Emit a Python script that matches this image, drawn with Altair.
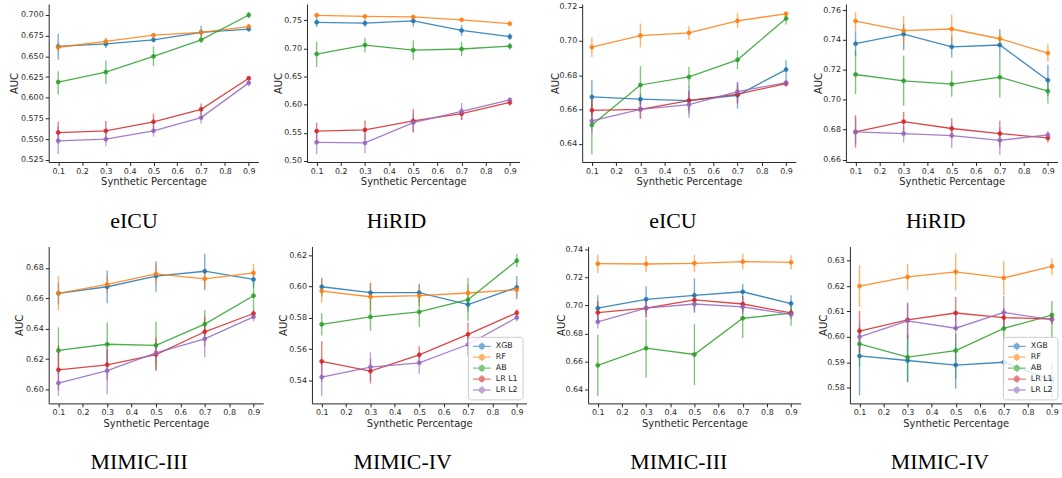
import altair as alt
import pandas as pd

# ---------------------------------------------------------------- data
PCT = [0.1, 0.3, 0.5, 0.7, 0.9]
MODELS = ["XGB", "RF", "AB", "LR L1", "LR L2"]
COLORS = ["#1f77b4", "#ff7f0e", "#2ca02c", "#d62728", "#9467bd"]
X_TICKS = [0.1, 0.2, 0.3, 0.4, 0.5, 0.6, 0.7, 0.8, 0.9]

# eICU (first block)
eicu_a_mean = {"XGB": [0.662, 0.665, 0.670, 0.679, 0.683], "RF": [0.661, 0.668, 0.6756, 0.679, 0.686],
               "AB": [0.619, 0.631, 0.650, 0.670, 0.700], "LR L1": [0.558, 0.560, 0.571, 0.586, 0.6236],
               "LR L2": [0.548, 0.550, 0.560, 0.576, 0.618]}
eicu_a_lo = {"XGB": [0.646, 0.660, 0.667, 0.674, 0.680], "RF": [0.656, 0.664, 0.673, 0.675, 0.683],
             "AB": [0.604, 0.617, 0.638, 0.666, 0.696], "LR L1": [0.545, 0.547, 0.559, 0.579, 0.621],
             "LR L2": [0.532, 0.541, 0.553, 0.569, 0.614]}
eicu_a_hi = {"XGB": [0.677, 0.670, 0.673, 0.687, 0.686], "RF": [0.666, 0.673, 0.678, 0.683, 0.689],
             "AB": [0.632, 0.645, 0.662, 0.675, 0.704], "LR L1": [0.571, 0.572, 0.581, 0.593, 0.626],
             "LR L2": [0.565, 0.557, 0.567, 0.583, 0.622]}

# HiRID (first block)
hirid_a_mean = {"XGB": [0.7465, 0.745, 0.749, 0.732, 0.721], "RF": [0.759, 0.757, 0.756, 0.751, 0.744],
                "AB": [0.690, 0.706, 0.697, 0.699, 0.704], "LR L1": [0.553, 0.555, 0.571, 0.584, 0.604],
                "LR L2": [0.533, 0.532, 0.568, 0.588, 0.6085]}
hirid_a_lo = {"XGB": [0.738, 0.738, 0.739, 0.722, 0.715], "RF": [0.755, 0.754, 0.752, 0.748, 0.742],
              "AB": [0.667, 0.693, 0.680, 0.686, 0.6975], "LR L1": [0.537, 0.537, 0.552, 0.5725, 0.598],
              "LR L2": [0.512, 0.5136, 0.550, 0.5725, 0.604]}
hirid_a_hi = {"XGB": [0.755, 0.752, 0.758, 0.742, 0.727], "RF": [0.763, 0.760, 0.760, 0.754, 0.746],
              "AB": [0.712, 0.719, 0.714, 0.712, 0.710], "LR L1": [0.568, 0.572, 0.592, 0.594, 0.609],
              "LR L2": [0.552, 0.549, 0.584, 0.603, 0.6126]}

# eICU (second block)
eicu_b_mean = {"XGB": [0.6673, 0.666, 0.6652, 0.6683, 0.6833], "RF": [0.6964, 0.7032, 0.7048, 0.7118, 0.7159],
               "AB": [0.6509, 0.6743, 0.679, 0.689, 0.7132], "LR L1": [0.6595, 0.6601, 0.6652, 0.6689, 0.6751],
               "LR L2": [0.6533, 0.6601, 0.6628, 0.6704, 0.6757]}
eicu_b_lo = {"XGB": [0.6566, 0.663, 0.6576, 0.6605, 0.6771], "RF": [0.6907, 0.6962, 0.7005, 0.7073, 0.7145],
             "AB": [0.6338, 0.663, 0.6728, 0.6835, 0.7097], "LR L1": [0.6517, 0.6546, 0.6595, 0.6634, 0.6732],
             "LR L2": [0.6462, 0.6546, 0.6552, 0.6644, 0.6741]}
eicu_b_hi = {"XGB": [0.6771, 0.669, 0.6732, 0.676, 0.6888], "RF": [0.702, 0.7102, 0.7087, 0.7165, 0.7171],
             "AB": [0.6654, 0.6853, 0.6849, 0.6946, 0.7161], "LR L1": [0.6667, 0.6654, 0.6708, 0.6741, 0.6767],
             "LR L2": [0.6595, 0.6654, 0.6712, 0.6761, 0.6771]}

# HiRID (second block)
hirid_b_mean = {"XGB": [0.7375, 0.7439, 0.7354, 0.7366, 0.7131], "RF": [0.7526, 0.7462, 0.7473, 0.7408, 0.7312],
                "AB": [0.7169, 0.7127, 0.7104, 0.7151, 0.7058], "LR L1": [0.6785, 0.6854, 0.6808, 0.6774, 0.6745],
                "LR L2": [0.6785, 0.6774, 0.6761, 0.6729, 0.6765]}
hirid_b_lo = {"XGB": [0.7294, 0.7332, 0.7283, 0.7283, 0.7026], "RF": [0.7462, 0.7361, 0.7377, 0.7377, 0.7254],
              "AB": [0.7038, 0.696, 0.702, 0.7015, 0.6975], "LR L1": [0.668, 0.6788, 0.6743, 0.6685, 0.6714],
              "LR L2": [0.6703, 0.6714, 0.668, 0.6631, 0.6736]}
hirid_b_hi = {"XGB": [0.7462, 0.7506, 0.7421, 0.7473, 0.7234], "RF": [0.7584, 0.7562, 0.7569, 0.7439, 0.7372],
              "AB": [0.7328, 0.7294, 0.7194, 0.7283, 0.7127], "LR L1": [0.6897, 0.6919, 0.6877, 0.6859, 0.677],
              "LR L2": [0.6881, 0.6825, 0.6841, 0.6814, 0.6792]}

# MIMIC-III (first block)
m3_a_mean = {"XGB": [0.6633, 0.6676, 0.6746, 0.6778, 0.6724], "RF": [0.6633, 0.6691, 0.6761, 0.6728, 0.6767],
             "AB": [0.6257, 0.6298, 0.6291, 0.643, 0.6617], "LR L1": [0.613, 0.6163, 0.623, 0.638, 0.65],
             "LR L2": [0.6043, 0.6124, 0.6241, 0.6333, 0.6478]}
m3_a_lo = {"XGB": [0.6561, 0.6567, 0.6643, 0.6659, 0.667], "RF": [0.6522, 0.6637, 0.6691, 0.6652, 0.6713],
           "AB": [0.6104, 0.6154, 0.6133, 0.6333, 0.6517], "LR L1": [0.5996, 0.6061, 0.6122, 0.6283, 0.6474],
           "LR L2": [0.5959, 0.597, 0.618, 0.6213, 0.6448]}
m3_a_hi = {"XGB": [0.6702, 0.6783, 0.6843, 0.6893, 0.6778], "RF": [0.6746, 0.6746, 0.6826, 0.68, 0.6826],
           "AB": [0.6409, 0.6441, 0.6448, 0.6522, 0.6713], "LR L1": [0.6289, 0.6263, 0.6343, 0.6478, 0.6522],
           "LR L2": [0.6137, 0.6278, 0.63, 0.6441, 0.6507]}

# MIMIC-IV (first block)
m4_a_mean = {"XGB": [0.5999, 0.5961, 0.5961, 0.5885, 0.5995], "RF": [0.5971, 0.5935, 0.5942, 0.5959, 0.598],
             "AB": [0.5758, 0.5806, 0.5838, 0.5916, 0.6166], "LR L1": [0.5521, 0.5459, 0.5563, 0.5694, 0.5832],
             "LR L2": [0.5421, 0.5485, 0.5512, 0.5629, 0.5802]}
m4_a_lo = {"XGB": [0.594, 0.5897, 0.5904, 0.584, 0.5919], "RF": [0.5897, 0.5844, 0.5876, 0.5908, 0.594],
           "AB": [0.5686, 0.5717, 0.5739, 0.5781, 0.6124], "LR L1": [0.5389, 0.5379, 0.5506, 0.5616, 0.5806],
           "LR L2": [0.5298, 0.54, 0.5442, 0.5559, 0.5777]}
m4_a_hi = {"XGB": [0.6056, 0.6024, 0.6018, 0.5929, 0.6067], "RF": [0.6046, 0.6024, 0.601, 0.6014, 0.6024],
           "AB": [0.583, 0.5908, 0.5929, 0.6056, 0.6208], "LR L1": [0.565, 0.5538, 0.5618, 0.577, 0.5855],
           "LR L2": [0.5538, 0.558, 0.558, 0.5696, 0.5828]}

# MIMIC-III (second block)
m3_b_mean = {"XGB": [0.6981, 0.7045, 0.7073, 0.7099, 0.7014], "RF": [0.73, 0.7298, 0.7303, 0.7315, 0.731],
             "AB": [0.6571, 0.6694, 0.6649, 0.6909, 0.6945], "LR L1": [0.695, 0.6981, 0.704, 0.7011, 0.6947],
             "LR L2": [0.6883, 0.6981, 0.7011, 0.699, 0.6936]}
m3_b_lo = {"XGB": [0.6886, 0.6945, 0.695, 0.704, 0.695], "RF": [0.7234, 0.7241, 0.7241, 0.7258, 0.7258],
           "AB": [0.635, 0.6483, 0.6428, 0.6767, 0.6855], "LR L1": [0.6867, 0.6914, 0.6985, 0.6957, 0.6919],
           "LR L2": [0.6836, 0.6914, 0.695, 0.6938, 0.6902]}
m3_b_hi = {"XGB": [0.7073, 0.7139, 0.7194, 0.7156, 0.7073], "RF": [0.7364, 0.7357, 0.7364, 0.7372, 0.736],
           "AB": [0.6791, 0.6902, 0.6867, 0.6997, 0.7021], "LR L1": [0.7033, 0.7045, 0.7092, 0.7068, 0.6974],
           "LR L2": [0.6926, 0.7045, 0.7068, 0.7045, 0.6966]}

# MIMIC-IV (second block)
m4_b_mean = {"XGB": [0.5925, 0.5907, 0.5889, 0.59, 0.583], "RF": [0.62, 0.6236, 0.6256, 0.6232, 0.6278],
             "AB": [0.5972, 0.592, 0.5946, 0.6033, 0.6086], "LR L1": [0.6023, 0.6067, 0.6094, 0.6076, 0.607],
             "LR L2": [0.6, 0.6063, 0.6034, 0.6096, 0.6068]}
m4_b_lo = {"XGB": [0.577, 0.5822, 0.5796, 0.5809, 0.576], "RF": [0.6118, 0.6184, 0.6184, 0.6165, 0.6243],
           "AB": [0.5881, 0.5822, 0.5835, 0.5972, 0.5995], "LR L1": [0.5939, 0.5994, 0.603, 0.6034, 0.605],
           "LR L2": [0.5946, 0.5998, 0.5972, 0.603, 0.6053]}
m4_b_hi = {"XGB": [0.6024, 0.6011, 0.5972, 0.5991, 0.590], "RF": [0.6282, 0.6288, 0.6327, 0.63, 0.631],
           "AB": [0.6037, 0.6004, 0.6011, 0.6096, 0.6141], "LR L1": [0.6102, 0.6135, 0.6157, 0.6115, 0.6089],
           "LR L2": [0.6057, 0.6128, 0.61, 0.6161, 0.6083]}

# y-axis tick values per panel
TICKS_EICU_A = [0.525, 0.550, 0.575, 0.600, 0.625, 0.650, 0.675, 0.700]
TICKS_HIRID_A = [0.50, 0.55, 0.60, 0.65, 0.70, 0.75]
TICKS_EICU_B = [0.64, 0.66, 0.68, 0.70, 0.72]
TICKS_HIRID_B = [0.66, 0.68, 0.70, 0.72, 0.74, 0.76]
TICKS_M3_A = [0.60, 0.62, 0.64, 0.66, 0.68]
TICKS_M4_A = [0.54, 0.56, 0.58, 0.60, 0.62]
TICKS_M3_B = [0.64, 0.66, 0.68, 0.70, 0.72, 0.74]
TICKS_M4_B = [0.58, 0.59, 0.60, 0.61, 0.62, 0.63]

# ---------------------------------------------------------------- style
INK = "#262626"
FONT = "DejaVu Sans"
# legend glyph: horizontal line, vertical error bar and a dot
LEGEND_GLYPH = ("M-1,0H1M0,-0.42V0.42"
                "M0.27,0A0.27,0.27,0,1,1,-0.27,0A0.27,0.27,0,1,1,0.27,0Z")


def to_frame(mean, lo, hi):
    rows = []
    for m in MODELS:
        for p, v, a, b in zip(PCT, mean[m], lo[m], hi[m]):
            rows.append({"pct": p, "model": m, "auc": v, "lo": a, "hi": b})
    return pd.DataFrame(rows)


def panel(name, mean, lo, hi, y_domain, y_ticks, y_fmt, width, height, ext, legend=False):
    df = to_frame(mean, lo, hi)
    x_enc = alt.X("pct:Q",
                  scale=alt.Scale(domain=[0.06, 0.94], nice=False, zero=False),
                  axis=alt.Axis(values=X_TICKS, format=".1f", title="Synthetic Percentage",
                                titlePadding=1.5, labelFlush=False, labelOverlap=False))
    y_scale = alt.Scale(domain=y_domain, nice=False, zero=False)
    y_axis = alt.Axis(values=y_ticks, format=y_fmt, title="AUC", minExtent=ext, maxExtent=ext,
                      titlePadding=0, labelOverlap=False, labelFlush=False)
    if legend:
        leg = alt.Legend(title=None, orient="bottom-right", direction="vertical", offset=4,
                         symbolType=LEGEND_GLYPH, symbolSize=324, symbolStrokeWidth=1.3,
                         labelFontSize=8, labelFont=FONT, labelColor=INK, labelOffset=4,
                         padding=4, rowPadding=0, clipHeight=11,
                         fillColor="rgba(255,255,255,0.8)", strokeColor="#cccccc", cornerRadius=3)
    else:
        leg = None
    stroke = alt.Stroke("model:N", scale=alt.Scale(domain=MODELS, range=COLORS), legend=leg)
    fill = alt.Fill("model:N", scale=alt.Scale(domain=MODELS, range=COLORS), legend=leg)

    base = alt.Chart(df)
    bars = base.mark_rule(strokeWidth=1.4, opacity=0.6).encode(
        x=x_enc, y=alt.Y("lo:Q", scale=y_scale, axis=y_axis), y2="hi:Q", stroke=stroke)
    lines = base.mark_line(strokeWidth=1.3, opacity=0.85).encode(
        x=x_enc, y=alt.Y("auc:Q", scale=y_scale, axis=y_axis), stroke=stroke)
    dots = base.mark_point(filled=True, size=16, strokeWidth=0.8, opacity=0.9).encode(
        x=x_enc, y=alt.Y("auc:Q", scale=y_scale, axis=y_axis), fill=fill, stroke=stroke)

    return alt.layer(bars, lines, dots).properties(
        width=width, height=height,
        title=alt.TitleParams(name, orient="bottom", anchor="middle", frame="bounds",
                              font="Liberation Serif", fontSize=22, fontWeight="normal",
                              color="black", offset=24.5))


def independent(c):
    return c.resolve_scale(stroke="independent", fill="independent").resolve_legend(
        stroke="independent", fill="independent")


p1 = panel("eICU", eicu_a_mean, eicu_a_lo, eicu_a_hi, [0.5224, 0.7132], TICKS_EICU_A, ".3f", 211, 159, 29.2)
p2 = panel("HiRID", hirid_a_mean, hirid_a_lo, hirid_a_hi, [0.498, 0.779], TICKS_HIRID_A, ".2f", 214, 159, 23.6)
p3 = panel("eICU", eicu_b_mean, eicu_b_lo, eicu_b_hi, [0.6293, 0.7216], TICKS_EICU_B, ".2f", 215, 159, 22.2)
p4 = panel("HiRID", hirid_b_mean, hirid_b_lo, hirid_b_hi, [0.6584, 0.764], TICKS_HIRID_B, ".2f", 213, 159, 22.2)

p5 = panel("MIMIC-III", m3_a_mean, m3_a_lo, m3_a_hi, [0.5909, 0.6941], TICKS_M3_A, ".2f", 216, 158, 23.9)
p6 = panel("MIMIC-IV", m4_a_mean, m4_a_lo, m4_a_hi, [0.5252, 0.6257], TICKS_M4_A, ".2f", 216, 158, 23.5,
           legend=True)
p7 = panel("MIMIC-III", m3_b_mean, m3_b_lo, m3_b_hi, [0.6298, 0.7424], TICKS_M3_B, ".2f", 214, 158, 21.5)
p8 = panel("MIMIC-IV", m4_b_mean, m4_b_lo, m4_b_hi, [0.5738, 0.6356], TICKS_M4_B, ".2f", 213, 158, 21.9,
           legend=True)

row1 = independent(alt.hconcat(
    independent(alt.hconcat(p1, p2, spacing=15)),
    independent(alt.hconcat(p3, p4, spacing=17.5)),
    spacing=30))
row2 = independent(alt.hconcat(
    independent(alt.hconcat(p5, p6, spacing=15)),
    independent(alt.hconcat(p7, p8, spacing=17.5)),
    spacing=30))

chart = independent(alt.vconcat(row1, row2, spacing=13)).properties(
    padding={"left": 9, "top": 0.5, "right": 0, "bottom": 0},
    background="white",
).configure(font=FONT).configure_view(stroke=None).configure_axis(
    grid=False, domainColor=INK, domainWidth=1, tickColor=INK, tickSize=3.5, tickWidth=1,
    labelColor=INK, labelFont=FONT, labelFontSize=8, labelPadding=2,
    titleColor=INK, titleFont=FONT, titleFontSize=10, titleFontWeight="normal",
)

chart.save("out.html", embed_options={"renderer": "svg", "actions": False})
